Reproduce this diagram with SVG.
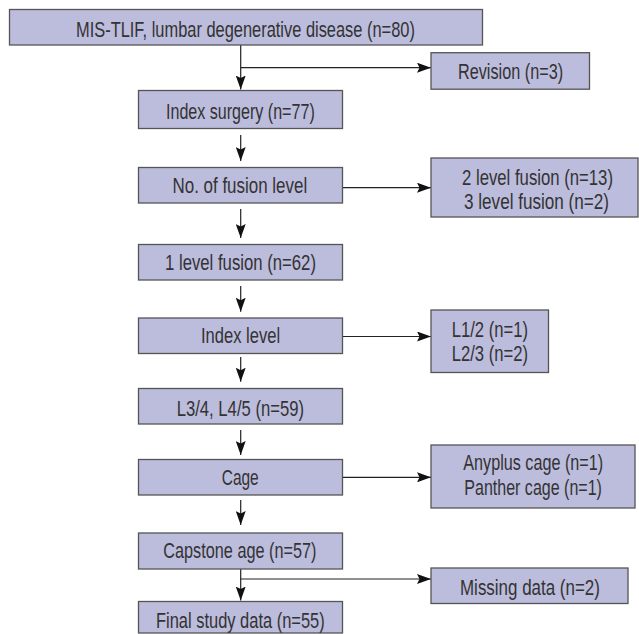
<svg xmlns="http://www.w3.org/2000/svg" width="639" height="634" viewBox="0 0 639 634">
<style>
.box{fill:#bcbcdc;stroke:#555;stroke-width:1.3}
.t{font-family:"Liberation Sans",Arial,sans-serif;font-size:22px;fill:#333}
.c{fill:none;stroke:#222;stroke-width:1.2}
</style>
<defs>
<marker id="ah" markerUnits="userSpaceOnUse" markerWidth="14" markerHeight="10" refX="14" refY="5" orient="auto">
<path d="M0,0 L14,5 L0,10 L2.5,5 Z" fill="#111"/>
</marker>
</defs>
<rect width="639" height="634" fill="#fff"/>
<g id="connectors">
<path class="c" d="M240.7,45 V89.5" marker-end="url(#ah)"/>
<path class="c" d="M240.7,67.7 H431" marker-end="url(#ah)"/>
<path class="c" d="M240.7,135 V161" marker-end="url(#ah)"/>
<path class="c" d="M342.5,187.7 H431" marker-end="url(#ah)"/>
<path class="c" d="M240.7,209 V238" marker-end="url(#ah)"/>
<path class="c" d="M240.7,286 V311.7" marker-end="url(#ah)"/>
<path class="c" d="M342.5,336.5 H431" marker-end="url(#ah)"/>
<path class="c" d="M240.7,357 V381.7" marker-end="url(#ah)"/>
<path class="c" d="M240.7,430 V455" marker-end="url(#ah)"/>
<path class="c" d="M342.5,477.3 H431" marker-end="url(#ah)"/>
<path class="c" d="M240.7,500 V525" marker-end="url(#ah)"/>
<path class="c" d="M240.7,569 V600.5" marker-end="url(#ah)"/>
<path class="c" d="M240.7,579 H431" marker-end="url(#ah)"/>
</g>
<g id="n-top"><rect class="box" x="9.5" y="9.5" width="473" height="35.5"/><text class="t" transform="translate(76,36.5) scale(0.74,1)" textLength="458" lengthAdjust="spacingAndGlyphs">MIS-TLIF, lumbar degenerative disease (n=80)</text></g>
<g id="n-revision"><rect class="box" x="431" y="52.7" width="158.5" height="36.5"/><text class="t" transform="translate(458,79) scale(0.74,1)" textLength="142" lengthAdjust="spacingAndGlyphs">Revision (n=3)</text></g>
<g id="n-index-surgery"><rect class="box" x="138.5" y="90.5" width="204" height="38"/><text class="t" transform="translate(166,119) scale(0.74,1)" textLength="201" lengthAdjust="spacingAndGlyphs">Index surgery (n=77)</text></g>
<g id="n-fusion-level"><rect class="box" x="138.5" y="167.5" width="204" height="35.5"/><text class="t" transform="translate(172.5,193) scale(0.74,1)" textLength="182" lengthAdjust="spacingAndGlyphs">No. of fusion level</text></g>
<g id="n-multi-level"><rect class="box" x="431" y="158" width="207" height="59"/><text class="t" transform="translate(462,185) scale(0.74,1)" textLength="204" lengthAdjust="spacingAndGlyphs">2 level fusion (n=13)</text><text class="t" transform="translate(464,209) scale(0.74,1)" textLength="196" lengthAdjust="spacingAndGlyphs">3 level fusion (n=2)</text></g>
<g id="n-one-level"><rect class="box" x="138.5" y="244.5" width="204" height="35.5"/><text class="t" transform="translate(165,270) scale(0.74,1)" textLength="204" lengthAdjust="spacingAndGlyphs">1 level fusion (n=62)</text></g>
<g id="n-index-level"><rect class="box" x="138.5" y="318" width="204" height="35.5"/><text class="t" transform="translate(201,343) scale(0.74,1)" textLength="107" lengthAdjust="spacingAndGlyphs">Index level</text></g>
<g id="n-upper-levels"><rect class="box" x="431" y="310" width="117.5" height="62.5"/><text class="t" transform="translate(451.7,337) scale(0.74,1)" textLength="103" lengthAdjust="spacingAndGlyphs">L1/2 (n=1)</text><text class="t" transform="translate(451.7,361) scale(0.74,1)" textLength="103" lengthAdjust="spacingAndGlyphs">L2/3 (n=2)</text></g>
<g id="n-l34-l45"><rect class="box" x="138.5" y="388.5" width="204" height="35.5"/><text class="t" transform="translate(176.7,416) scale(0.74,1)" textLength="172" lengthAdjust="spacingAndGlyphs">L3/4, L4/5 (n=59)</text></g>
<g id="n-cage"><rect class="box" x="138.5" y="459.5" width="204" height="35.5"/><text class="t" transform="translate(221.7,485) scale(0.74,1)" textLength="50" lengthAdjust="spacingAndGlyphs">Cage</text></g>
<g id="n-other-cage"><rect class="box" x="431" y="445" width="204" height="63"/><text class="t" transform="translate(463.3,470) scale(0.74,1)" textLength="189" lengthAdjust="spacingAndGlyphs">Anyplus cage (n=1)</text><text class="t" transform="translate(464.3,495) scale(0.74,1)" textLength="186" lengthAdjust="spacingAndGlyphs">Panther cage (n=1)</text></g>
<g id="n-capstone"><rect class="box" x="138.5" y="533" width="204" height="36"/><text class="t" transform="translate(163.3,558) scale(0.74,1)" textLength="207" lengthAdjust="spacingAndGlyphs">Capstone age (n=57)</text></g>
<g id="n-missing"><rect class="box" x="431" y="568" width="197" height="35.5"/><text class="t" transform="translate(460,595) scale(0.74,1)" textLength="189" lengthAdjust="spacingAndGlyphs">Missing data (n=2)</text></g>
<g id="n-final"><rect class="box" x="138.5" y="601.5" width="204" height="31.5"/><text class="t" transform="translate(156,628) scale(0.74,1)" textLength="228" lengthAdjust="spacingAndGlyphs">Final study data (n=55)</text></g>
</svg>
